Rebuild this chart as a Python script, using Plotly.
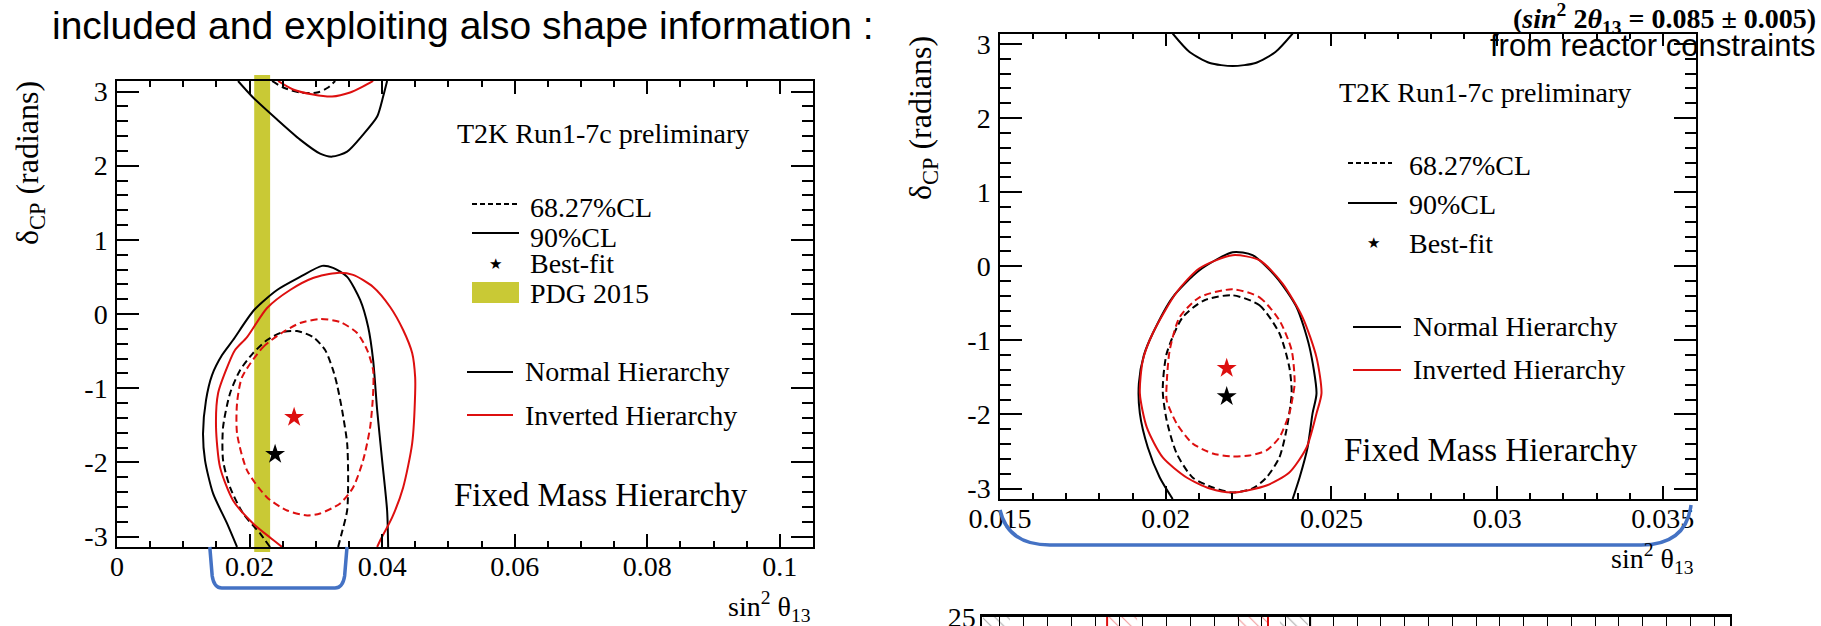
import plotly.graph_objects as go

W, H = 1821, 626

# ---------------- left panel: T2K only (sin^2 theta13 free) ----------------
# normal hierarchy, 90% CL: lower lobe and the lobe wrapping in from +pi
L_nh90_lo_x = [0.01811, 0.01660, 0.01449, 0.01328, 0.01298, 0.01343, 0.01434, 0.01585, 0.01751, 0.02068, 0.02415,
               0.02762, 0.03094, 0.03260, 0.03472, 0.03668, 0.03789, 0.03864, 0.03925, 0.04000, 0.04075, 0.04091]
L_nh90_lo_y = [-3.1416, -2.824, -2.419, -1.973, -1.608, -1.162, -0.824, -0.554, -0.351, 0.054, 0.324,
               0.500, 0.649, 0.622, 0.500, 0.189, -0.176, -0.622, -1.297, -1.973, -2.649, -3.1416]
L_nh90_hi_x = [0.01826, 0.02053, 0.02415, 0.02762, 0.03064, 0.03245, 0.03472, 0.03713, 0.03925, 0.04015, 0.04075]
L_nh90_hi_y = [3.1416, 2.919, 2.622, 2.351, 2.162, 2.122, 2.189, 2.419, 2.662, 2.932, 3.1416]
# normal hierarchy, 68.27% CL
L_nh68_lo_x = [0.02309, 0.02158, 0.01902, 0.01706, 0.01600, 0.01600, 0.01706, 0.01857, 0.02053, 0.02264, 0.02506,
               0.02717, 0.02958, 0.03140, 0.03260, 0.03321, 0.03396, 0.03472, 0.03487, 0.03472, 0.03381, 0.03336]
L_nh68_lo_y = [-3.1416, -2.959, -2.689, -2.338, -1.973, -1.527, -1.068, -0.757, -0.527, -0.351, -0.243,
               -0.230, -0.311, -0.486, -0.757, -0.959, -1.297, -1.743, -2.203, -2.649, -2.986, -3.1416]
L_nh68_hi_x = [0.02340, 0.02506, 0.02762, 0.03019, 0.03185, 0.03291]
L_nh68_hi_y = [3.1416, 3.054, 2.986, 2.986, 3.054, 3.1416]
# inverted hierarchy, 90% CL
L_ih90_lo_x = [0.02491, 0.02309, 0.02053, 0.01751, 0.01555, 0.01494, 0.01525, 0.01675, 0.01781, 0.01962, 0.02264,
               0.02611, 0.02958, 0.03321, 0.03562, 0.03864, 0.04121, 0.04317, 0.04453, 0.04498, 0.04498, 0.04453,
               0.04317, 0.04151, 0.03970, 0.03925]
L_ih90_lo_y = [-3.1416, -3.014, -2.824, -2.514, -2.068, -1.527, -1.068, -0.689, -0.486, -0.311, 0.081,
               0.324, 0.486, 0.554, 0.527, 0.365, 0.095, -0.216, -0.527, -0.851, -1.068, -1.743,
               -2.338, -2.743, -3.054, -3.1416]
L_ih90_hi_x = [0.02430, 0.02657, 0.02958, 0.03245, 0.03517, 0.03713, 0.03864]
L_ih90_hi_y = [3.1416, 3.027, 2.959, 2.932, 2.986, 3.068, 3.1416]
# inverted hierarchy, 68.27% CL (closed)
L_ih68_x = [0.01887, 0.02204, 0.02506, 0.02762, 0.03064, 0.03366, 0.03623, 0.03774, 0.03864, 0.03864, 0.03819,
            0.03713, 0.03562, 0.03366, 0.03064, 0.02868, 0.02566, 0.02264, 0.01962, 0.01811, 0.01811, 0.01887]
L_ih68_y = [-0.851, -0.446, -0.243, -0.122, -0.068, -0.108, -0.257, -0.486, -0.757, -1.068, -1.527,
            -1.973, -2.338, -2.554, -2.689, -2.716, -2.649, -2.473, -2.108, -1.608, -1.203, -0.851]
L_best_nh = (0.02385, -1.892)
L_best_ih = (0.02672, -1.392)
PDG_S2T13, PDG_ERR = 0.0219, 0.0012

# ---------------- right panel: with reactor constraint ----------------
R_nh90_lo_x = [0.02021, 0.01982, 0.01946, 0.01922, 0.01919, 0.01934, 0.01961, 0.02021, 0.02102, 0.02202,
               0.02262, 0.02334, 0.02395, 0.02434, 0.02455, 0.02443, 0.02428, 0.02404, 0.02383]
R_nh90_lo_y = [-3.1416, -2.851, -2.446, -1.986, -1.581, -1.203, -0.905, -0.419, -0.054, 0.189,
               0.149, -0.149, -0.554, -1.095, -1.716, -1.986, -2.446, -2.851, -3.1416]
R_nh90_hi_x = [0.02021, 0.02072, 0.02133, 0.02202, 0.02271, 0.02331, 0.02383]
R_nh90_hi_y = [3.1416, 2.892, 2.743, 2.703, 2.743, 2.892, 3.1416]
R_nh68_x = [0.02202, 0.02283, 0.02343, 0.02373, 0.02380, 0.02364, 0.02343, 0.02304, 0.02262, 0.02202, 0.02142,
            0.02081, 0.02033, 0.02003, 0.01991, 0.02003, 0.02051, 0.02117, 0.02202]
R_nh68_y = [-0.392, -0.527, -0.905, -1.365, -1.716, -2.216, -2.581, -2.851, -3.000, -3.054, -2.986,
            -2.851, -2.527, -2.081, -1.676, -1.176, -0.689, -0.459, -0.392]
R_ih90_x = [0.02202, 0.02283, 0.02352, 0.02413, 0.02455, 0.02470, 0.02455, 0.02425, 0.02373, 0.02304, 0.02202,
            0.02133, 0.02063, 0.01991, 0.01943, 0.01922, 0.01931, 0.01961, 0.02033, 0.02102, 0.02202]
R_ih90_y = [0.149, 0.081, -0.230, -0.689, -1.230, -1.716, -1.986, -2.446, -2.784, -2.959, -3.054,
            -3.000, -2.851, -2.581, -2.176, -1.716, -1.270, -0.905, -0.351, -0.027, 0.149]
R_ih68_x = [0.02202, 0.02283, 0.02343, 0.02380, 0.02389, 0.02383, 0.02373, 0.02343, 0.02304, 0.02253, 0.02202,
            0.02142, 0.02081, 0.02033, 0.02003, 0.02003, 0.02012, 0.02042, 0.02102, 0.02202]
R_ih68_y = [-0.311, -0.419, -0.730, -1.135, -1.581, -1.770, -1.986, -2.311, -2.486, -2.554, -2.568,
            -2.527, -2.392, -2.122, -1.811, -1.581, -1.135, -0.689, -0.419, -0.311]
R_best_nh = (0.02184, -1.757)
R_best_ih = (0.02184, -1.378)

# ---------------- lower panel (only its top edge is in view) ----------------
B_hatch_nh = [(0.01429, 0.01542), (0.02676, 0.02794)]
B_hatch_ih = [(0.01950, 0.02076), (0.02496, 0.02622)]
B_edge_ih = [0.01950, 0.02626]
B_edge_nh = [0.02803]

# tick labels
L_xticks = [0, 0.02, 0.04, 0.06, 0.08, 0.1]
L_xtext = ["0", "0.02", "0.04", "0.06", "0.08", "0.1"]
R_xticks = [0.015, 0.02, 0.025, 0.03, 0.035]
R_xtext = ["0.015", "0.02", "0.025", "0.03", "0.035"]
D_ticks = [-3, -2, -1, 0, 1, 2, 3]
D_text = ["-3", "-2", "-1", "0", "1", "2", "3"]
B_yticks = [25]
B_ytext = ["25"]

BLACK, RED = "#000000", "#dd0f0f"
PDG_COL = "#c9c935"
BLUE = "#4472c4"
SERIF = "Liberation Serif"

fig = go.Figure()


def contour(x, y, color, dashed, xa, ya):
    fig.add_trace(go.Scatter(
        x=x, y=y, mode="lines", xaxis=xa, yaxis=ya, showlegend=False, hoverinfo="skip",
        line=dict(color=color, width=2, shape="spline", smoothing=0.7,
                  dash="7px,4px" if dashed else "solid")))


for xa, ya, sets in [
    ("x", "y", [(L_nh90_lo_x, L_nh90_lo_y, BLACK, False), (L_nh90_hi_x, L_nh90_hi_y, BLACK, False),
                (L_nh68_lo_x, L_nh68_lo_y, BLACK, True), (L_nh68_hi_x, L_nh68_hi_y, BLACK, True),
                (L_ih90_lo_x, L_ih90_lo_y, RED, False), (L_ih90_hi_x, L_ih90_hi_y, RED, False),
                (L_ih68_x, L_ih68_y, RED, True)]),
    ("x2", "y2", [(R_nh90_lo_x, R_nh90_lo_y, BLACK, False), (R_nh90_hi_x, R_nh90_hi_y, BLACK, False),
                  (R_nh68_x, R_nh68_y, BLACK, True), (R_ih90_x, R_ih90_y, RED, False),
                  (R_ih68_x, R_ih68_y, RED, True)]),
]:
    for x, y, c, d in sets:
        contour(x, y, c, d, xa, ya)

for (bx, by), c, xa, ya in [(L_best_nh, BLACK, "x", "y"), (L_best_ih, RED, "x", "y"),
                            (R_best_nh, BLACK, "x2", "y2"), (R_best_ih, RED, "x2", "y2")]:
    fig.add_trace(go.Scatter(x=[bx], y=[by], mode="markers", xaxis=xa, yaxis=ya, showlegend=False,
                             hoverinfo="skip", marker=dict(symbol="star", size=15, color=c,
                                                           line=dict(width=0))))

# lower panel: hatched exclusion bands and their edges
for spans, col in [(B_hatch_nh, "#555555"), (B_hatch_ih, "#e03030")]:
    for a, b in spans:
        fig.add_trace(go.Scatter(x=[a, b, b, a, a], y=[0, 0, 25, 25, 0], mode="lines", fill="toself",
                                 xaxis="x3", yaxis="y3", showlegend=False, hoverinfo="skip",
                                 line=dict(width=0, color="rgba(0,0,0,0)"), fillcolor="rgba(0,0,0,0)",
                                 fillpattern=dict(shape="\\", fgcolor=col, bgcolor="rgba(0,0,0,0)",
                                                  size=9, solidity=0.12)))
for xs, col in [(B_edge_ih, RED), (B_edge_nh, BLACK)]:
    for v in xs:
        fig.add_trace(go.Scatter(x=[v, v], y=[0, 25], mode="lines", xaxis="x3", yaxis="y3",
                                 showlegend=False, hoverinfo="skip", line=dict(color=col, width=2)))


def px(v):
    return v / W


def py(v):
    return 1 - v / H


tickfont = dict(family=SERIF, size=28, color="black")
axis_common = dict(showline=True, linecolor="black", linewidth=1.5, mirror="allticks", ticks="inside",
                   tickcolor="black", tickwidth=1.5, showgrid=False, zeroline=False, tickfont=tickfont,
                   automargin=False, tickmode="array")

L_XR = [0, 0.105]
R_XR = [0.015, 0.036]
L_DOM = [px(117), px(813)]
R_DOM = [px(1000), px(1696)]
B_XR = [0.014244, 0.045672]
B_DOM = [px(982), px(1730)]

fig.update_layout(
    width=W, height=H, margin=dict(l=0, r=0, t=0, b=0), paper_bgcolor="white", plot_bgcolor="white",
    showlegend=False,
    xaxis=dict(axis_common, domain=L_DOM, range=L_XR, anchor="y", tickvals=L_xticks, ticktext=L_xtext,
               ticklen=13, ticklabelstandoff=-6,
               minor=dict(ticks="inside", tick0=0, dtick=0.005, ticklen=6, tickcolor="black", tickwidth=1.5)),
    yaxis=dict(axis_common, domain=[py(547), py(81)], range=[-3.1416, 3.1416], anchor="x", tickvals=D_ticks,
               ticktext=D_text, ticklen=22, ticklabelstandoff=2,
               minor=dict(ticks="inside", tick0=0, dtick=0.2, ticklen=11, tickcolor="black", tickwidth=1.5)),
    xaxis2=dict(axis_common, domain=R_DOM, range=R_XR, anchor="y2", tickvals=R_xticks, ticktext=R_xtext,
                ticklen=13, ticklabelstandoff=-6,
                minor=dict(ticks="inside", tick0=0.015, dtick=0.001, ticklen=6, tickcolor="black",
                           tickwidth=1.5)),
    yaxis2=dict(axis_common, domain=[py(499), py(33.5)], range=[-3.1416, 3.1416], anchor="x2",
                tickvals=D_ticks, ticktext=D_text, ticklen=22, ticklabelstandoff=2,
                minor=dict(ticks="inside", tick0=0, dtick=0.2, ticklen=11, tickcolor="black", tickwidth=1.5)),
    xaxis3=dict(showline=True, linecolor="black", linewidth=2.5, side="top", mirror=False, ticks="inside",
                tickcolor="black", tickwidth=1.2, ticklen=9, showgrid=False, zeroline=False,
                showticklabels=False, domain=B_DOM, range=B_XR, anchor="y3", tick0=0.015, dtick=0.001,
                automargin=False),
    yaxis3=dict(showline=True, linecolor="black", linewidth=1.5, mirror=True, ticks="", showgrid=False,
                zeroline=False, domain=[0, py(617)], range=[24.5, 25.001], anchor="x3", tickmode="array",
                tickvals=B_yticks, ticktext=B_ytext, tickfont=tickfont, automargin=False,
                ticklabelstandoff=-1, ticklabeloverflow="allow"),
)

shapes = []
# PDG 2015 band, drawn a little past the frame as in the original
shapes.append(dict(type="rect", xref="x", yref="paper", x0=PDG_S2T13 - PDG_ERR, x1=PDG_S2T13 + PDG_ERR,
                   y0=py(552), y1=py(75), fillcolor=PDG_COL, line=dict(width=0), layer="below"))


def xpaper(v, rng, dom):
    return dom[0] + (v - rng[0]) / (rng[1] - rng[0]) * (dom[1] - dom[0])


# blue bracket under the left x axis marking the zoomed sin^2 range
bx0, bx1 = xpaper(0.0140, L_XR, L_DOM), xpaper(0.0347, L_XR, L_DOM)
yt, yb = py(547), py(588)
dx = 12 / W
dy = 12 / H
shapes.append(dict(type="path", xref="paper", yref="paper", line=dict(color=BLUE, width=3.5),
                   path=f"M {bx0},{yt} L {bx0 + dx * 0.2},{yb + dy} Q {bx0 + dx * 0.35},{yb} {bx0 + dx},{yb} "
                        f"L {bx1 - dx},{yb} Q {bx1 - dx * 0.35},{yb} {bx1 - dx * 0.2},{yb + dy} L {bx1},{yt}"))
# blue brace under the right x axis
rx0, rx1 = xpaper(0.0150, R_XR, R_DOM), xpaper(0.03585, R_XR, R_DOM)
ry0, ryb, ry1 = py(510), py(545), py(505)
shapes.append(dict(type="path", xref="paper", yref="paper", line=dict(color=BLUE, width=3.5),
                   path=f"M {rx0},{ry0} Q {rx0 + 8 / W},{ryb} {rx0 + 50 / W},{ryb} L {rx1 - 50 / W},{ryb} "
                        f"Q {rx1 - 5 / W},{ryb} {rx1},{ry1}"))

# legend line samples
for x0, x1, y, col, dash in [(472, 517, 204, BLACK, "dash"), (472, 519, 233, BLACK, "solid"),
                             (467, 513, 372, BLACK, "solid"), (467, 513, 415, RED, "solid"),
                             (1348, 1392, 163, BLACK, "dash"), (1348, 1397, 203, BLACK, "solid"),
                             (1353, 1401, 327, BLACK, "solid"), (1353, 1401, 370, RED, "solid")]:
    shapes.append(dict(type="line", xref="paper", yref="paper", x0=px(x0), x1=px(x1), y0=py(y), y1=py(y),
                       line=dict(color=col, width=2, dash="5px,3px" if dash == "dash" else "solid")))
shapes.append(dict(type="rect", xref="paper", yref="paper", x0=px(472), x1=px(519), y0=py(303), y1=py(282),
                   fillcolor=PDG_COL, line=dict(width=0)))
fig.update_layout(shapes=shapes)

ann = []


def text(x, y, s, size=28, family=SERIF, xanchor="left", yanchor="middle", angle=0, color="black"):
    ann.append(dict(x=px(x), y=py(y), xref="paper", yref="paper", text=s, showarrow=False, xanchor=xanchor,
                    yanchor=yanchor, textangle=angle, font=dict(family=family, size=size, color=color)))


text(50, 26, "included and exploiting also shape information :", size=39, family="Liberation Sans")
text(1818, 18, "<b>(<i>sin</i><sup>2</sup> 2<i>θ</i><sub>13</sub> = 0.085 ± 0.005)</b>", size=28,
     family=SERIF, xanchor="right")
text(1818, 46, "from reactor constraints", size=31, family="Liberation Sans", xanchor="right")

# left panel texts
text(29, 79, "δ<sub>CP</sub> (radians)", size=32, angle=-90, xanchor="center", yanchor="top")
text(813, 606, "sin<sup>2</sup> θ<sub>13</sub>", size=28, xanchor="right")
text(455, 133, "T2K Run1-7c preliminary", size=28)
text(528, 207, "68.27%CL")
text(528, 237, "90%CL")
text(495, 264, "★", size=15, family="DejaVu Sans", xanchor="center")
text(528, 264, "Best-fit")
text(528, 293, "PDG 2015")
text(523, 372, "Normal Hierarchy")
text(523, 415, "Inverted Hierarchy")
text(452, 495, "Fixed Mass Hierarchy", size=33)

# right panel texts
text(922, 34, "δ<sub>CP</sub> (radians)", size=32, angle=-90, xanchor="center", yanchor="top")
text(1696, 558, "sin<sup>2</sup> θ<sub>13</sub>", size=28, xanchor="right")
text(1337, 93, "T2K Run1-7c preliminary", size=28)
text(1407, 165, "68.27%CL")
text(1407, 204, "90%CL")
text(1373, 243, "★", size=15, family="DejaVu Sans", xanchor="center")
text(1407, 243, "Best-fit")
text(1411, 326, "Normal Hierarchy")
text(1411, 369, "Inverted Hierarchy")
text(1342, 450, "Fixed Mass Hierarchy", size=33)

fig.update_layout(annotations=ann)
fig.write_html("out.html")
